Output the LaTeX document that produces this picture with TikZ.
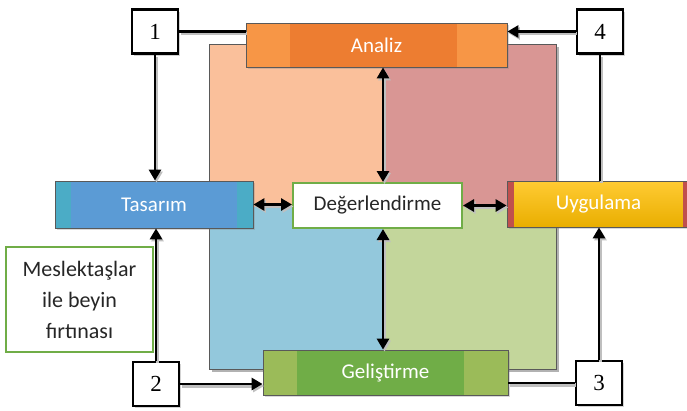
\documentclass[tikz,border=0pt]{standalone}
\usepackage{fontspec}
\setmainfont{Carlito}
\newfontfamily\numfont{Liberation Serif}
\usetikzlibrary{arrows.meta,shadows,calc}
\definecolor{qtl}{HTML}{FAC09B}
\definecolor{qtr}{HTML}{D99694}
\definecolor{qbl}{HTML}{93C8DC}
\definecolor{qbr}{HTML}{C3D69B}
\definecolor{anout}{HTML}{F79646}
\definecolor{anin}{HTML}{ED7D31}
\definecolor{taout}{HTML}{4BACC6}
\definecolor{tain}{HTML}{5B9BD5}
\definecolor{geout}{HTML}{9BBB59}
\definecolor{gein}{HTML}{70AD47}
\definecolor{ugtop}{HTML}{FFCB33}
\definecolor{ugbot}{HTML}{E9AE00}
\definecolor{ugred}{HTML}{C0504D}
\definecolor{grn}{HTML}{70AD47}
\definecolor{edge}{HTML}{595959}
\begin{document}
\begin{tikzpicture}[x=1pt,y=-1pt,
  lbl/.style={font=\fontsize{21}{24}\selectfont},
  numbox/.style={draw, line width=2.6pt, fill=white, minimum width=46pt, minimum height=44pt, inner sep=0pt,
    font=\numfont\fontsize{23}{23}\selectfont,
    drop shadow={shadow xshift=2pt, shadow yshift=-2pt, opacity=0.35}},
  phase/.style={draw=edge, line width=0.8pt, inner sep=0pt, text=white, lbl,
    drop shadow={shadow xshift=2pt, shadow yshift=-2pt, opacity=0.3}},
  shd/.style={preaction={draw=black!25, line width=3.5pt, transform canvas={shift={(1.5pt,-2pt)}}}},
  tip/.tip={Triangle[length=11pt,width=12pt]},
  conn/.style={line width=2.8pt, shd, -tip},
  plain/.style={line width=2.8pt, shd},
  dbl/.style={line width=2.8pt, shd, tip-tip}
]
\useasboundingbox (0,0) rectangle (687,410);
% quadrants
\fill[black!30] (212,47) rectangle (559,372);
\fill[qtl] (209,44) rectangle (383,207);
\fill[qtr] (383,44) rectangle (556,207);
\fill[qbl] (209,207) rectangle (383,369);
\fill[qbr] (383,207) rectangle (556,369);
\draw[edge, line width=0.8pt] (209,44) rectangle (556,369);
\coordinate (qc) at (383,207);

% phase boxes
\node[phase, fill=anout, minimum width=261pt, minimum height=44pt,
  path picture={\fill[anin] ([xshift=44pt]path picture bounding box.north west) rectangle ([xshift=-50pt]path picture bounding box.south east);}]
  (an) at (376.5,45) {Analiz};
\node[phase, fill=taout, minimum width=198pt, minimum height=47pt,
  path picture={\fill[tain] ([xshift=16pt]path picture bounding box.north west) rectangle ([xshift=-16pt]path picture bounding box.south east);}]
  (ta) at (154,204.5) {Tasarım};
\node[phase, fill=geout, minimum width=245pt, minimum height=45pt,
  path picture={\fill[gein] ([xshift=34pt]path picture bounding box.north west) rectangle ([xshift=-44pt]path picture bounding box.south east);}]
  (ge) at (385.5,372.5) {Geliştirme};
\node[phase, top color=ugtop, bottom color=ugbot, minimum width=183pt, minimum height=46pt,
  path picture={\fill[ugred] (path picture bounding box.north west) rectangle ([xshift=7pt]path picture bounding box.south west);
                \fill[ugred] ([xshift=-7pt]path picture bounding box.north east) rectangle (path picture bounding box.south east);}]
  (ug) at (598.5,204) {Uygulama};
\node[draw=grn, line width=2pt, fill=white, minimum width=169pt, minimum height=45pt, inner sep=0pt, lbl, text=black!85]
  (de) at (377.5,205.5) {Değerlendirme};
\node[draw=grn, line width=2pt, fill=white, minimum width=147pt, minimum height=105pt, inner sep=0pt,
  align=center, text=black!85, font=\fontsize{22}{31}\selectfont]
  (ms) at (79.5,299.5) {Meslektaşlar\\ile beyin\\fırtınası};

% number boxes
\node[numbox] (n1) at (155,31.5) {1};
\node[numbox] (n4) at (600,31.5) {4};
\node[numbox] (n2) at (156,384) {2};
\node[numbox] (n3) at (599,383) {3};

% cycle connectors
\draw[plain] (n1.east) -- (n1.east -| an.west);
\draw[conn] (n1.south) -- (n1.south |- ta.north);
\draw[conn] (n2.north) -- (n2.north |- ta.south);
\draw[conn] (n2.east) -- (n2.east -| ge.west);
\draw[plain] (n3.west -| ge.east) -- (n3.west);
\draw[conn] (n3.north) -- (n3.north |- ug.south);
\draw[plain] (n4.south |- ug.north) -- (n4.south);
\draw[conn] (n4.west) -- (n4.west -| an.east);

% evaluation connectors
\draw[dbl] (an.south -| qc) -- (de.north -| qc);
\draw[dbl] (de.south -| qc) -- (ge.north -| qc);
\draw[dbl] (ta.east) -- (ta.east -| de.west);
\draw[dbl] (de.east) -- (de.east -| ug.west);
\end{tikzpicture}
\end{document}
